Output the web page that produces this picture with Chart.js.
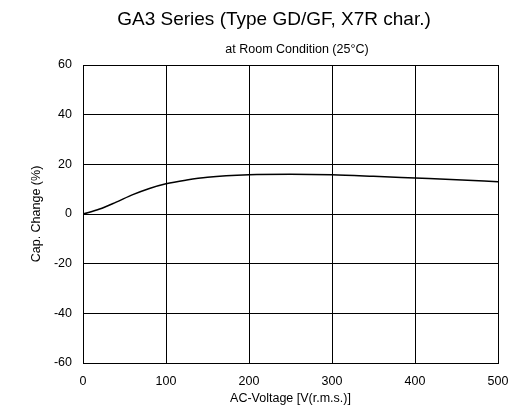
<!DOCTYPE html>
<html>
<head>
<meta charset="utf-8">
<script src="https://cdn.jsdelivr.net/npm/chart.js@4"></script>
<style>
  html, body { margin: 0; padding: 0; background: #fff; }
  #wrap { width: 522px; height: 416px; }
</style>
</head>
<body>
<div id="wrap"><canvas id="capChart" width="522" height="416"></canvas></div>
<script>
const titleText = "GA3 Series (Type GD/GF, X7R char.)";
const subTitleText = "at Room Condition (25\u00B0C)";
const xTitle = "AC-Voltage [V(r.m.s.)]";
const yTitle = "Cap. Change (%)";

const volts = [0, 20, 40, 60, 80, 100, 125, 150, 200, 250, 300, 350, 400, 450, 500];
const capChange = [0, 2, 4.8, 7.8, 10.3, 12.2, 13.7, 14.8, 15.8, 16, 15.8, 15.2, 14.5, 13.8, 13.0];

const xTicks = [0, 100, 200, 300, 400, 500];
const yTicks = [-60, -40, -20, 0, 20, 40, 60];

const FONT = "'Liberation Sans', Arial, sans-serif";

// titles drawn at fixed spots above the plot
const headerPlugin = {
  id: "header",
  afterDraw(chart) {
    const ctx = chart.ctx;
    ctx.save();
    ctx.fillStyle = "#000";
    ctx.textAlign = "center";
    ctx.textBaseline = "alphabetic";
    ctx.font = "19px " + FONT;
    ctx.fillText(titleText, 274, 25);
    ctx.font = "12.5px " + FONT;
    ctx.fillText(subTitleText, 297, 53);
    ctx.restore();
  }
};

new Chart(document.getElementById("capChart"), {
  type: "line",
  data: {
    datasets: [{
      data: volts.map((v, i) => ({ x: v, y: capChange[i] })),
      borderColor: "#000",
      borderWidth: 1.5,
      pointRadius: 0,
      tension: 0.4,
      cubicInterpolationMode: "monotone",
      fill: false
    }]
  },
  options: {
    responsive: false,
    animation: false,
    layout: { padding: { top: 65, right: 24, bottom: 0, left: 0 } },
    plugins: {
      legend: { display: false },
      tooltip: { enabled: false }
    },
    scales: {
      x: {
        type: "linear",
        min: 0,
        max: 500,
        afterBuildTicks: s => { s.ticks = xTicks.map(v => ({ value: v })); },
        afterFit: s => { s.height = 53; },
        grid: { color: "#000", lineWidth: 1, drawTicks: false },
        border: { color: "#000", width: 1 },
        ticks: { color: "#000", font: { family: FONT, size: 12.5 }, padding: 11, maxRotation: 0 },
        title: { display: true, text: xTitle, color: "#000", font: { family: FONT, size: 12.5 }, padding: { top: 4, bottom: 10 } }
      },
      y: {
        min: -60,
        max: 60,
        afterBuildTicks: s => { s.ticks = yTicks.map(v => ({ value: v })); },
        afterFit: s => { s.width = 83; },
        grid: { color: "#000", lineWidth: 1, drawTicks: false },
        border: { color: "#000", width: 1 },
        ticks: { color: "#000", font: { family: FONT, size: 12.5 }, padding: 11 },
        title: { display: true, text: yTitle, color: "#000", font: { family: FONT, size: 12.5 }, padding: { top: 29, bottom: 0 } }
      }
    }
  },
  plugins: [headerPlugin]
});
</script>
</body>
</html>
